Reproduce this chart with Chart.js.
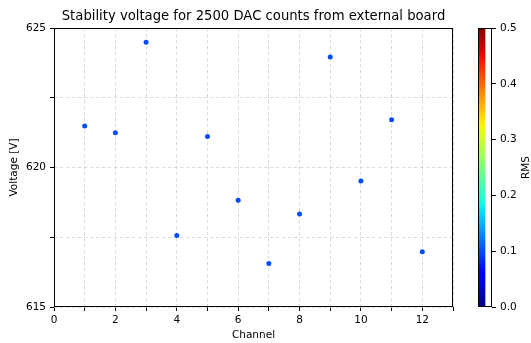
<!DOCTYPE html>
<html>
<head>
<meta charset="utf-8">
<script src="https://cdn.jsdelivr.net/npm/chart.js@4/dist/chart.umd.min.js"></script>
<style>
  html, body { margin: 0; padding: 0; background: #fff; }
  #wrap { position: relative; width: 531px; height: 343px; }
  #main { position: absolute; left: 0; top: 0; }
  #cbar { position: absolute; left: 460px; top: 0; }
</style>
</head>
<body>
<div id="wrap">
  <canvas id="main" width="531" height="343"></canvas>
  <canvas id="cbar" width="71" height="343"></canvas>
</div>
<script>
// ---- data ----
const channels = [1, 2, 3, 4, 5, 6, 7, 8, 9, 10, 11, 12];
const voltages = [621.49, 621.25, 624.49, 617.56, 621.11, 618.83, 616.56, 618.33, 623.96, 619.52, 621.71, 616.98];
const rmsValues = [0.10, 0.10, 0.10, 0.10, 0.10, 0.10, 0.10, 0.10, 0.10, 0.10, 0.10, 0.10];
const xTicks = [0, 2, 4, 6, 8, 10, 12];
const yTicks = [615, 620, 625];
const rmsTicks = [0.0, 0.1, 0.2, 0.3, 0.4, 0.5];
const rmsRange = [0, 0.5];
const titleText = 'Stability voltage for 2500 DAC counts from external board';

// ---- jet colormap ----
function interp(t, pts) {
  for (let i = 0; i < pts.length - 1; i++) {
    const [x0, y0] = pts[i], [x1, y1] = pts[i + 1];
    if (t >= x0 && t <= x1) return y0 + (y1 - y0) * (t - x0) / (x1 - x0);
  }
  return pts[pts.length - 1][1];
}
function jet(t) {
  t = Math.max(0, Math.min(1, t));
  const r = interp(t, [[0,0],[0.35,0],[0.66,1],[0.89,1],[1,0.5]]);
  const g = interp(t, [[0,0],[0.125,0],[0.375,1],[0.64,1],[0.91,0],[1,0]]);
  const b = interp(t, [[0,0.5],[0.11,1],[0.34,1],[0.65,0],[1,0]]);
  return `rgb(${Math.round(r*255)},${Math.round(g*255)},${Math.round(b*255)})`;
}

const FONT = "'DejaVu Sans', sans-serif";
const frame = {
  id: 'frame',
  afterDraw(chart) {
    const a = chart.chartArea, ctx = chart.ctx;
    ctx.save();
    ctx.strokeStyle = '#000';
    ctx.lineWidth = 1;
    ctx.strokeRect(Math.round(a.left) + 0.5, Math.round(a.top) + 0.5,
                   Math.round(a.right - a.left) - 1, Math.round(a.bottom - a.top) - 1);
    ctx.restore();
  }
};

const gridCommon = {
  color: '#d4d4d4', lineWidth: 0.8, tickColor: '#000', tickLength: 4, tickWidth: 1
};

new Chart(document.getElementById('main'), {
  type: 'scatter',
  data: {
    datasets: [{
      data: channels.map((c, i) => ({ x: c, y: voltages[i] })),
      pointBackgroundColor: rmsValues.map(v => jet((v - rmsRange[0]) / (rmsRange[1] - rmsRange[0]))),
      pointBorderWidth: 0,
      pointRadius: 2.5,
      pointHoverRadius: 2.5
    }]
  },
  options: {
    responsive: false,
    animation: false,
    layout: { padding: { left: 0, right: 78, top: 0, bottom: 0 } },
    plugins: {
      legend: { display: false },
      tooltip: { enabled: false },
      title: {
        display: true, text: titleText, fullSize: false, color: '#000',
        font: { family: FONT, size: 13.2, weight: 'normal' },
        padding: { top: 9.1, bottom: 3.06 }
      }
    },
    scales: {
      x: {
        type: 'linear', min: 0, max: 13,
        afterFit(s) { s.height = 36; },
        border: { display: false, dash: [3.5, 2.5] },
        grid: gridCommon,
        ticks: {
          stepSize: 1, autoSkip: false, maxRotation: 0, padding: 3, color: '#000',
          font: { family: FONT, size: 10.5 },
          callback: v => xTicks.includes(v) ? String(v) : ''
        },
        title: { display: true, text: 'Channel', color: '#000',
                 font: { family: FONT, size: 10.5 }, padding: { top: 0, bottom: 1.5 } }
      },
      y: {
        type: 'linear', min: 615, max: 625,
        afterFit(s) { s.width = 54; },
        border: { display: false, dash: [3.5, 2.5] },
        grid: gridCommon,
        ticks: {
          stepSize: 2.5, autoSkip: false, padding: 4, color: '#000',
          font: { family: FONT, size: 10.5 },
          callback: v => yTicks.includes(v) ? String(v) : ''
        },
        title: { display: true, text: 'Voltage [V]', color: '#000',
                 font: { family: FONT, size: 10.5 }, padding: { top: 7.5, bottom: 0 } }
      }
    }
  },
  plugins: [frame]
});

// ---- colorbar ----
const rmsLabel = {
  id: 'rmsLabel',
  afterDraw(chart) {
    const ctx = chart.ctx, a = chart.chartArea;
    ctx.save();
    ctx.translate(66.5, (a.top + a.bottom) / 2);
    ctx.rotate(-Math.PI / 2);
    ctx.fillStyle = '#000';
    ctx.font = `10.5px ${FONT}`;
    ctx.textAlign = 'center';
    ctx.textBaseline = 'middle';
    ctx.fillText('RMS', 0, 0);
    ctx.restore();
  }
};

new Chart(document.getElementById('cbar'), {
  type: 'bar',
  data: {
    labels: ['RMS'],
    datasets: [{
      data: [[rmsRange[0], rmsRange[1]]],
      barPercentage: 1, categoryPercentage: 1, borderWidth: 0,
      backgroundColor(ctx) {
        const a = ctx.chart.chartArea;
        if (!a) return jet(0.5);
        const g = ctx.chart.ctx.createLinearGradient(0, a.bottom, 0, a.top);
        for (let i = 0; i <= 40; i++) g.addColorStop(i / 40, jet(i / 40));
        return g;
      }
    }]
  },
  options: {
    responsive: false,
    animation: false,
    layout: { padding: { left: 18, right: 0, top: 28, bottom: 36 } },
    plugins: { legend: { display: false }, tooltip: { enabled: false }, title: { display: false } },
    scales: {
      x: { display: false, offset: false, grid: { display: false } },
      y: {
        position: 'right', min: rmsRange[0], max: rmsRange[1],
        afterFit(s) { s.width = 39; },
        afterBuildTicks(s) { s.ticks = rmsTicks.map(v => ({ value: v })); },
        border: { display: false },
        grid: { drawOnChartArea: false, drawTicks: true, tickLength: 4, tickColor: '#000', color: '#000' },
        ticks: { padding: 4, color: '#000', font: { family: FONT, size: 10.5 },
                 callback: v => Number(v).toFixed(1) }
      }
    }
  },
  plugins: [frame, rmsLabel]
});
</script>
</body>
</html>
